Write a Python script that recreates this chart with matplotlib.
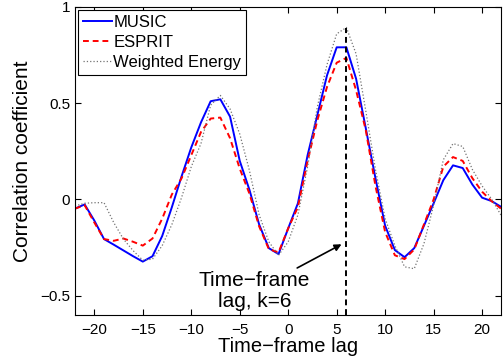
import matplotlib
matplotlib.use('Agg')
import matplotlib.pyplot as plt

lags = list(range(-22, 23))

music = [-0.048, -0.026, -0.11, -0.206, -0.235, -0.265, -0.295, -0.323, -0.295,
         -0.19, -0.04, 0.12, 0.27, 0.40, 0.51, 0.52, 0.43, 0.20, 0.05, -0.13,
         -0.253, -0.284, -0.15, -0.02, 0.23, 0.437, 0.644, 0.79, 0.79, 0.627,
         0.37, 0.11, -0.137, -0.263, -0.30, -0.253, -0.137, -0.02, 0.10, 0.177,
         0.163, 0.077, 0.009, -0.009, -0.04]

esprit = [-0.048, -0.03, -0.12, -0.206, -0.215, -0.203, -0.22, -0.24, -0.203,
          -0.10, 0.026, 0.11, 0.23, 0.35, 0.42, 0.425, 0.318, 0.16, 0.03, -0.14,
          -0.258, -0.275, -0.15, -0.04, 0.20, 0.41, 0.584, 0.71, 0.735, 0.567,
          0.36, 0.07, -0.17, -0.29, -0.31, -0.26, -0.13, 0.0, 0.17, 0.22,
          0.20, 0.11, 0.04, -0.01, -0.05]

energy = [-0.034, -0.02, -0.017, -0.017, -0.12, -0.206, -0.266, -0.316, -0.31,
          -0.24, -0.13, 0.01, 0.17, 0.29, 0.49, 0.54, 0.47, 0.34, 0.15, -0.08,
          -0.22, -0.29, -0.22, -0.08, 0.17, 0.48, 0.70, 0.86, 0.893, 0.756,
          0.46, 0.155, -0.10, -0.24, -0.35, -0.36, -0.23, -0.03, 0.206, 0.29,
          0.275, 0.155, 0.07, 0.0, -0.086]

k_lag = 6

plt.rcParams['font.family'] = ['Liberation Sans', 'DejaVu Sans']

fig = plt.figure(figsize=(5.03, 3.62), dpi=100)
ax = fig.add_axes([0.149, 0.130, 0.848, 0.851])

ax.plot(lags, music, color='#0000ff', linewidth=1.4, label='MUSIC')
ax.plot(lags, esprit, color='#ff0000', linewidth=1.4, linestyle='--',
        dashes=(3, 2), label='ESPRIT')
ax.plot(lags, energy, color='0.45', linewidth=0.9, linestyle=':',
        label='Weighted Energy')

# vertical marker at the best lag
ax.plot([k_lag, k_lag], [-0.6, 0.89], color='black', linewidth=1.4,
        linestyle='--', dashes=(3, 2))

ax.annotate('Time\u2212frame\nlag, k=6', xy=(5.5, -0.233), xytext=(-3.5, -0.475),
            ha='center', va='center', fontsize=15, linespacing=1.15,
            arrowprops=dict(arrowstyle='-|>', color='black', linewidth=1.2,
                            shrinkA=0, shrinkB=0, mutation_scale=10))

ax.set_xlim(-22, 22)
ax.set_ylim(-0.6, 1)
ax.set_xticks([-20, -15, -10, -5, 0, 5, 10, 15, 20])
ax.set_yticks([-0.5, 0, 0.5, 1])
ax.set_yticklabels(['\u22120.5', '0', '0.5', '1'])
ax.tick_params(axis='both', direction='in', top=True, right=True,
               labelsize=11, length=4)
ax.tick_params(axis='x', pad=6)

ax.set_xlabel('Time\u2212frame lag', fontsize=14.5, labelpad=0)
ax.set_ylabel('Correlation coefficient', fontsize=15, labelpad=6)

leg = ax.legend(loc='upper left', fontsize=12, handlelength=1.7,
                handletextpad=0.1, borderpad=0.3, labelspacing=0.3,
                fancybox=False, framealpha=1, borderaxespad=0.2)
leg.get_frame().set_edgecolor('black')
leg.get_frame().set_linewidth(0.8)

plt.savefig('out.png', dpi=100)
